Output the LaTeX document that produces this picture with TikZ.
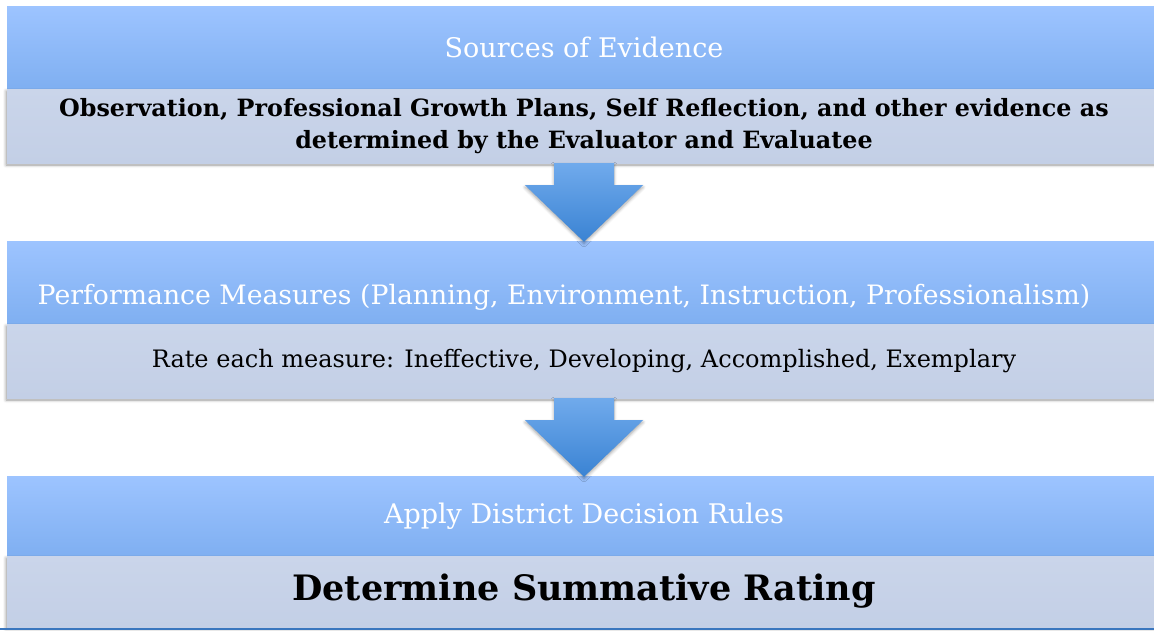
\documentclass[tikz,border=0pt]{standalone}
\usepackage{fontspec}
\setmainfont{DejaVu Serif}
\usetikzlibrary{calc,shadows.blur}

% Colours of the stage boxes and the block arrows
\definecolor{headtop}{RGB}{157,196,255}
\definecolor{headbot}{RGB}{127,175,241}
\definecolor{bodytop}{RGB}{202,213,234}
\definecolor{bodybot}{RGB}{195,207,230}
\definecolor{arrowtop}{RGB}{112,170,236}
\definecolor{arrowbot}{RGB}{58,131,211}
\definecolor{footline}{RGB}{58,118,190}

\tikzset{
  stagehead/.style={rectangle, inner sep=0pt, minimum width=1154pt, minimum height=83pt,
    top color=headtop, bottom color=headbot, text=white, font=\fontsize{27}{32}\selectfont},
  stagebody/.style={rectangle, inner sep=0pt, minimum width=1154pt, minimum height=74pt,
    top color=bodytop, bottom color=bodybot, text=black, align=center,
    blur shadow={shadow xshift=-1pt, shadow yshift=-2pt, shadow blur radius=3pt, shadow opacity=40}},
  flowarrow/.style={top color=arrowtop, bottom color=arrowbot,
    blur shadow={shadow xshift=0pt, shadow yshift=-2pt, shadow blur radius=3pt, shadow opacity=35}}
}

% block arrow from the bottom of one stage to the top of the next
\newcommand{\stagearrow}[2]{%
  \path[flowarrow] ($(#1.south)+(-30,0)$) -- ($(#1.south)+(30,0)$) -- ($(#1.south)+(30,22)$)
    -- ($(#1.south)+(59,22)$) -- ($(#2.north)+(0,1)$) -- ($(#1.south)+(-59,22)$)
    -- ($(#1.south)+(-30,22)$) -- cycle;}

\begin{document}
\begin{tikzpicture}[x=1pt,y=-1pt]
\useasboundingbox (0,0) rectangle (1154,630);

% Stage 1
\node[stagehead] (head1) at (584,47.5) {Sources of Evidence};
\node[stagebody, font=\bfseries\fontsize{23.8}{32}\selectfont] (body1) at (584,126)
  {Observation, Professional Growth Plans, Self Reflection, and other evidence as\\
   determined by the Evaluator and Evaluatee};

% Stage 2
\node[stagehead] (head2) at (584,282.5) {};
\node[text=white, inner sep=0pt, font=\fontsize{26.7}{32}\selectfont] (perf) at (564,297)
  {Performance Measures (Planning, Environment, Instruction, Professionalism)};
\node[stagebody, font=\fontsize{24}{30}\selectfont] (body2) at (584,361)
  {Rate each measure: Ineffective, Developing, Accomplished, Exemplary};

% Stage 3
\node[stagehead, minimum height=80pt] (head3) at (584,516) {Apply District Decision Rules};
\node[stagebody, minimum height=71pt, font=\bfseries\fontsize{35}{40}\selectfont] (body3) at (584,591.5)
  {Determine Summative Rating};
\fill[footline] (0,628) rectangle (1154,630);

% Arrows between the stages
\stagearrow{body1}{head2}
\stagearrow{body2}{head3}
\end{tikzpicture}
\end{document}
